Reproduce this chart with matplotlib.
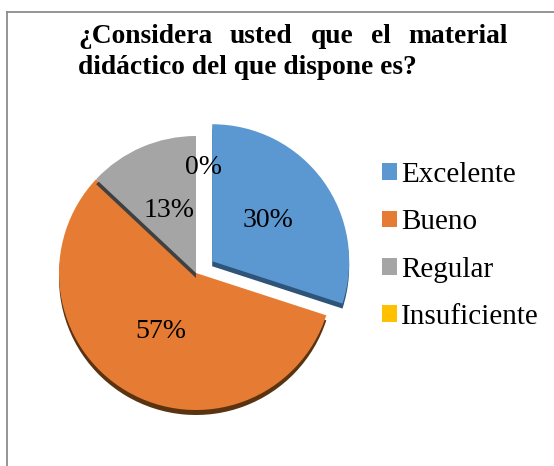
import matplotlib
matplotlib.use("Agg")
import matplotlib.pyplot as plt
from matplotlib.lines import Line2D

categorias = ["Excelente", "Bueno", "Regular", "Insuficiente"]
porcentajes = [30, 57, 13, 0]
colores = ["#5B98D2", "#E67C33", "#A5A5A5", "#FFC000"]
sombras = ["#2F5479", "#5A3311", "#404040", "#7F6000"]
titulo_l1 = "¿Considera usted que el material"
titulo_l2 = "didáctico del que dispone es?"

W, H = 554, 466
plt.rcParams["font.family"] = ["Liberation Serif", "DejaVu Serif"]

fig = plt.figure(figsize=(W / 100, H / 100), dpi=100)
ax = fig.add_axes([0, 0, 1, 1])

cx, cy = 196, H - 273
r = 137
explode = [20, 0, 0, 0]

# sombra (efecto 3D de Excel)
sw, _ = ax.pie(porcentajes, colors=sombras, radius=r, center=(cx, cy - 5),
               startangle=90, counterclock=False, explode=explode)
wedges, _, autotexts = ax.pie(porcentajes, colors=colores, radius=r, center=(cx, cy),
                              startangle=90, counterclock=False, explode=explode,
                              autopct="%1.0f%%", pctdistance=0.5,
                              textprops=dict(fontsize=20, color="black"))

orden = {1: (1, 2), 0: (3, 4), 2: (3, 4), 3: (3, 4)}
for i, (zs, zw) in orden.items():
    sw[i].set_zorder(zs)
    wedges[i].set_zorder(zw)
for t in autotexts:
    t.set_zorder(6)
autotexts[3].set_position((203, H - 167))

ax.set_xlim(0, W)
ax.set_ylim(0, H)
ax.axis("off")

leg = ax.legend(wedges, categorias, loc="upper left", bbox_to_anchor=(382, H - 162),
                bbox_transform=ax.transData, frameon=False, fontsize=21,
                handlelength=0.51, handleheight=0.51, handletextpad=0.14,
                labelspacing=0.73, borderpad=0, borderaxespad=0)

# titulo justificado
renderer = fig.canvas.get_renderer()
palabras = titulo_l1.split()
textos = [ax.text(0, H - 43, p, fontsize=19.8, fontweight="bold") for p in palabras]
anchos = [t.get_window_extent(renderer).width for t in textos]
x0, x1 = 78, 508
hueco = (x1 - x0 - sum(anchos)) / (len(palabras) - 1)
x = x0
for t, a in zip(textos, anchos):
    t.set_x(x)
    x += a + hueco
ax.text(x0, H - 74, titulo_l2, fontsize=19.8, fontweight="bold")

# marco
fig.add_artist(Line2D([7 / W, 7 / W], [0, 1 - 12 / H], color="#8c8c8c", lw=1.3))
fig.add_artist(Line2D([7 / W, 1], [1 - 12 / H, 1 - 12 / H], color="#8c8c8c", lw=1.3))

fig.savefig("out.png", dpi=100)
